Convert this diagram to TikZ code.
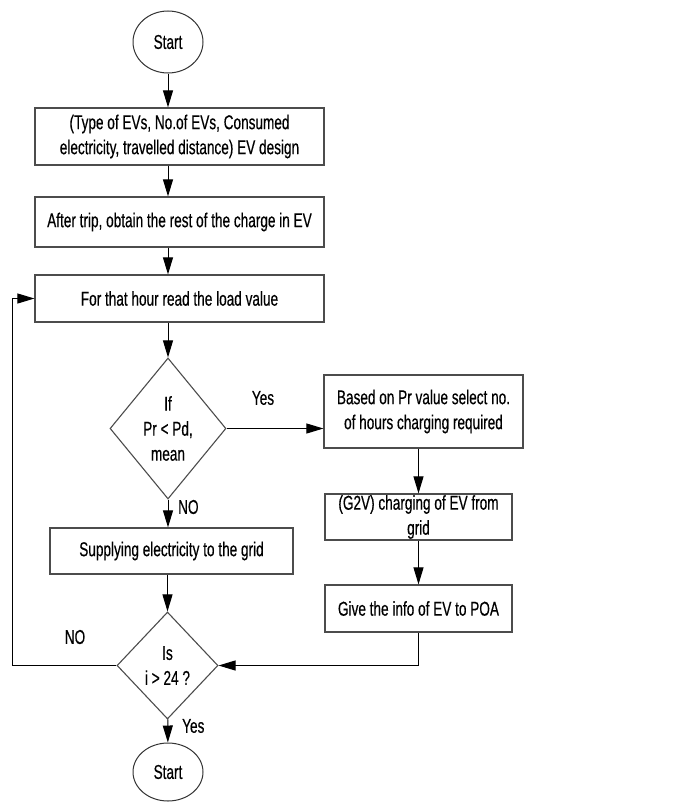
\documentclass[tikz,border=0pt]{standalone}
\usepackage{fontspec}
\setmainfont[FakeStretch=0.68,FakeBold=0.4]{Liberation Sans}
\usetikzlibrary{shapes.geometric,arrows.meta}

\tikzset{
  box/.style={draw=black!70,line width=1.2pt,rectangle,align=center,inner xsep=2pt,inner ysep=0pt},
  decision/.style={draw=black!70,line width=1.1pt,diamond,align=center,inner sep=0pt,aspect=0.82},
  terminal/.style={draw=black!80,line width=1pt,ellipse,inner sep=0pt},
  flow/.style={line width=1pt,-{Triangle[length=17pt,width=10pt]}},
  lbl/.style={inner sep=0pt}
}

\begin{document}
\begin{tikzpicture}[x=1pt,y=-1pt]
\fontsize{20}{25}\selectfont
\useasboundingbox (0,0) rectangle (685,803);

\node[terminal,minimum width=70pt,minimum height=62pt] (start) at (168,42) {Start};
\node[box,minimum width=289pt,minimum height=57pt] (design) at (179.5,136.5)
  {(Type of EVs, No.of EVs, Consumed\\electricity, travelled distance) EV design};
\node[box,minimum width=289pt,minimum height=50pt] (trip) at (179.5,222)
  {After trip, obtain the rest of the charge in EV};
\node[box,minimum width=289pt,minimum height=47pt] (load) at (179.5,298.5)
  {For that hour read the load value};
\node[decision,minimum width=116pt,minimum height=141pt] (check) at (168,428.5)
  {If\\Pr < Pd,\\mean};
\node[box,minimum width=243pt,minimum height=46pt] (supply) at (171.5,551)
  {Supplying electricity to the grid};
\node[box,minimum width=199pt,minimum height=73pt] (select) at (423.5,411.5)
  {Based on Pr value select no.\\of hours charging required};
\node[box,minimum width=187pt,minimum height=46pt] (g2v) at (418.5,517)
  {(G2V) charging of EV from\\grid};
\node[box,minimum width=187pt,minimum height=47pt] (poa) at (418.5,608.5)
  {Give the info of EV to POA};
\node[decision,minimum width=101pt,minimum height=107pt] (loop) at (167.5,665.5)
  {Is\\i > 24 ?};
\node[terminal,minimum width=70pt,minimum height=58pt] (stop) at (168,772) {Start};

\coordinate (back) at (12,0);

\draw[flow] (start.south) -- (start.south |- design.north);
\draw[flow] (start.south |- design.south) -- (start.south |- trip.north);
\draw[flow] (start.south |- trip.south) -- (start.south |- load.north);
\draw[flow] (check.north |- load.south) -- (check.north);
\draw[flow] (check.east) -- (check.east -| select.west);
\draw[flow] (check.south) -- (check.south |- supply.north);
\draw[flow] (loop.north |- supply.south) -- (loop.north);
\draw[flow] (g2v.north |- select.south) -- (g2v.north);
\draw[flow] (g2v) -- (poa);
\draw[flow] (poa.south) |- (loop.east);
\draw[flow] (loop.west) -- (loop.west -| back) |- (load.west);
\draw[flow] (loop) -- (stop);

\node[lbl] (yes1) at (263,398) {Yes};
\node[lbl,anchor=west] (no1) at (178,507) {NO};
\node[lbl] (no2) at (75,637) {NO};
\node[lbl,anchor=west] (yes2) at (182,726) {Yes};
\end{tikzpicture}
\end{document}
